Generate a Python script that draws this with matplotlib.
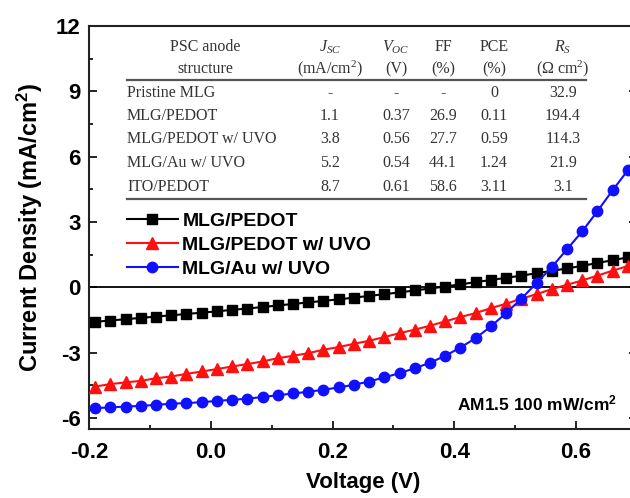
import matplotlib
matplotlib.use('Agg')
import matplotlib.pyplot as plt
from matplotlib.lines import Line2D
from matplotlib.ticker import MultipleLocator, FormatStrFormatter

# voltage sweep (V)
voltage = [-0.19, -0.165, -0.14, -0.115, -0.09, -0.065, -0.04, -0.015,
           0.01, 0.035, 0.06, 0.085, 0.11, 0.135, 0.16, 0.185, 0.21, 0.235,
           0.26, 0.285, 0.31, 0.335, 0.36, 0.385, 0.41, 0.435, 0.46, 0.485,
           0.51, 0.535, 0.56, 0.585, 0.61, 0.635, 0.66, 0.685]

# current density (mA/cm2)
j_pedot = [-1.58, -1.52, -1.46, -1.40, -1.34, -1.28, -1.22, -1.16,
           -1.10, -1.03, -0.97, -0.90, -0.83, -0.76, -0.69, -0.62, -0.55, -0.47,
           -0.39, -0.31, -0.23, -0.14, -0.05, 0.04, 0.14, 0.24, 0.34, 0.44,
           0.54, 0.65, 0.76, 0.87, 0.99, 1.12, 1.25, 1.38]
j_pedot_uvo = [-4.55, -4.44, -4.36, -4.29, -4.17, -4.09, -3.97, -3.86,
               -3.75, -3.63, -3.52, -3.40, -3.25, -3.14, -3.02, -2.86, -2.74, -2.59,
               -2.45, -2.28, -2.10, -1.94, -1.76, -1.56, -1.36, -1.18, -0.95, -0.75,
               -0.52, -0.31, -0.08, 0.12, 0.32, 0.54, 0.77, 0.98]
j_au_uvo = [-5.54, -5.51, -5.47, -5.44, -5.39, -5.34, -5.31, -5.27,
            -5.21, -5.16, -5.11, -5.03, -4.95, -4.87, -4.79, -4.70, -4.59, -4.47,
            -4.32, -4.13, -3.94, -3.71, -3.46, -3.14, -2.76, -2.33, -1.79, -1.18,
            -0.52, 0.20, 0.93, 1.75, 2.57, 3.50, 4.46, 5.38]

series_labels = ['MLG/PEDOT', 'MLG/PEDOT w/ UVO', 'MLG/Au w/ UVO']

# inset table
table_header1 = ['PSC anode', r'$J_{SC}$', r'$V_{OC}$', 'FF', 'PCE', r'$R_S$']
table_header2 = ['structure', r'(mA/cm$^2$)', '(V)', '(%)', '(%)', r'($\Omega$ cm$^2$)']
table_rows = [
    ['Pristine MLG', '-', '-', '-', '0', '32.9'],
    ['MLG/PEDOT', '1.1', '0.37', '26.9', '0.11', '194.4'],
    ['MLG/PEDOT w/ UVO', '3.8', '0.56', '27.7', '0.59', '114.3'],
    ['MLG/Au w/ UVO', '5.2', '0.54', '44.1', '1.24', '21.9'],
    ['ITO/PEDOT', '8.7', '0.61', '58.6', '3.11', '3.1'],
]

plt.rcParams['font.family'] = ['Liberation Sans', 'DejaVu Sans']
plt.rcParams['axes.unicode_minus'] = False
plt.rcParams['mathtext.fontset'] = 'custom'
plt.rcParams['mathtext.rm'] = 'Liberation Serif:weight=400'
plt.rcParams['mathtext.it'] = 'Liberation Serif:style=italic:weight=400'
plt.rcParams['mathtext.bf'] = 'Liberation Sans:bold'

W, H = 630, 498
fig = plt.figure(figsize=(W / 100, H / 100), dpi=100)
ax = fig.add_axes([89 / W, 69 / H, 548 / W, 403 / H])

ax.axhline(0, color='black', lw=1.3, zorder=1)
ax.plot(voltage, j_pedot, color='black', marker='s', ms=6.5, lw=1.5,
        label=series_labels[0], zorder=3)
ax.plot(voltage, j_pedot_uvo, color='#ff1010', marker='^', ms=8, lw=1.5,
        label=series_labels[1], zorder=3)
ax.plot(voltage, j_au_uvo, color='#1010ff', marker='o', ms=7.5, lw=1.5,
        label=series_labels[2], zorder=3)

ax.set_xlim(-0.2, 0.7)
ax.set_ylim(-6.5, 12)
ax.xaxis.set_major_locator(MultipleLocator(0.2))
ax.xaxis.set_minor_locator(MultipleLocator(0.1))
ax.xaxis.set_major_formatter(FormatStrFormatter('%.1f'))
ax.yaxis.set_major_locator(MultipleLocator(3))
ax.yaxis.set_minor_locator(MultipleLocator(1.5))
ax.tick_params(which='both', direction='in', right=True, top=False, width=1.2)
ax.tick_params(which='major', length=6)
ax.tick_params(which='minor', length=3)
ax.tick_params(axis='x', labelsize=16, pad=9)
ax.tick_params(axis='y', labelsize=16, pad=6)
for lab in ax.get_xticklabels() + ax.get_yticklabels():
    lab.set_fontweight('bold')
for s in ax.spines.values():
    s.set_linewidth(1.5)
    s.set_color('#222222')

ax.set_xlabel('Voltage (V)', fontsize=16, fontweight='bold', labelpad=7)
ax.set_ylabel(r'Current Density (mA/cm$\mathregular{^2}$)', fontsize=17,
              fontweight='bold', labelpad=8)

ax.legend(loc='upper left', bbox_to_anchor=((127 - 89) / 548, (429 - 212) / 403),
          frameon=False, handlelength=2.6, handletextpad=0.25,
          labelspacing=0.34, borderpad=0, borderaxespad=0,
          prop={'weight': 'bold', 'size': 14})

fig.text(617 / W, 1 - 403 / H, r'AM1.5 100 mW/cm$\mathregular{^2}$',
         fontsize=12.5, fontweight='bold', ha='right', va='center')

# table drawn in figure pixel positions
col_x = [127, 330, 396, 443, 494, 563]
tfont = dict(family='Liberation Serif', fontweight='normal', fontsize=11.5,
             color='#333333')


def put(x, y, s, ha='center'):
    fig.text(x / W, 1 - y / H, s, ha=ha, va='center', **tfont)


put(205, 47, table_header1[0])
put(205, 69, table_header2[0])
for i in range(1, 6):
    put(col_x[i], 47, table_header1[i])
    put(col_x[i], 69, table_header2[i])
row_y = [93, 116, 139, 163, 187]
for y, row in zip(row_y, table_rows):
    put(col_x[0], y, row[0], ha='left')
    for i in range(1, 6):
        put(col_x[i], y, row[i])
for y in (80, 199):
    fig.add_artist(Line2D([127 / W, 586 / W], [1 - y / H, 1 - y / H],
                          color='#555555', lw=1.6))

fig.savefig('out.png', dpi=100, facecolor='white')
